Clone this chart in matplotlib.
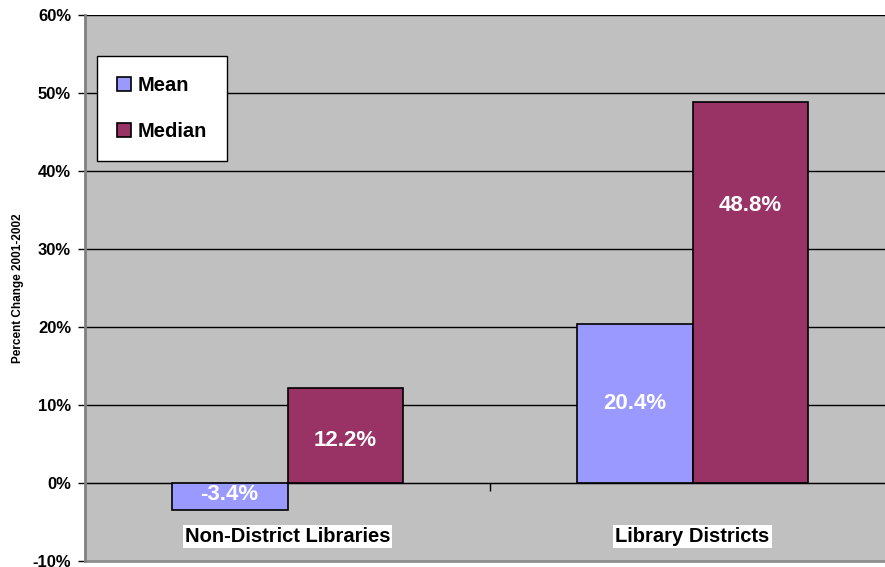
import matplotlib
matplotlib.use("Agg")
import matplotlib.pyplot as plt
import numpy as np

categories = ["Non-District Libraries", "Library Districts"]
series_names = ["Mean", "Median"]
mean_vals = [-3.4, 20.4]
median_vals = [12.2, 48.8]
yticks = [-10, 0, 10, 20, 30, 40, 50, 60]
ylabel = "Percent Change 2001-2002"

colors = ["#9999FF", "#993366"]
plt.rcParams['font.family'] = ['Liberation Sans', 'DejaVu Sans']

fig = plt.figure(figsize=(8.85, 5.67), dpi=100)
fig.patch.set_facecolor("white")
ax = fig.add_axes([85/885, 1-561/567, 810/885, (561-15)/567])
ax.set_facecolor("#C0C0C0")

x = np.arange(len(categories)) + 0.5
w = 1/3.5
b1 = ax.bar(x - w/2, mean_vals, w, color=colors[0], edgecolor="black", linewidth=1.2, label=series_names[0], zorder=3)
b2 = ax.bar(x + w/2, median_vals, w, color=colors[1], edgecolor="black", linewidth=1.2, label=series_names[1], zorder=3)

# data labels
label_offsets = {(0, 0): 0.5, (0, 1): 0.45, (1, 0): 0.5, (1, 1): 0.73}
for si, vals in enumerate([mean_vals, median_vals]):
    for ci, v in enumerate(vals):
        xc = x[ci] + (-w/2 if si == 0 else w/2)
        yc = v * label_offsets[(ci, si)] if v > 0 else v * 0.42
        ax.text(xc, yc, f"{v:.1f}%", color="white", fontsize=16, fontweight="bold",
                ha="center", va="center", zorder=4)

ax.set_xlim(0, 2)
ax.set_ylim(-10, 60)
ax.set_yticks(yticks)
ax.set_yticklabels([f"{t}%" for t in yticks], fontsize=12, fontweight="bold")
ax.yaxis.grid(True, color="black", linewidth=1.0, zorder=1)
ax.set_axisbelow(True)
ax.tick_params(axis="y", direction="out", length=5, width=1, color="black", pad=5)

ax.spines["bottom"].set_position(("data", 0))
ax.spines["bottom"].set_color("black")
ax.spines["bottom"].set_zorder(2)
ax.set_xticks([1])
ax.set_xticklabels([""])
ax.tick_params(axis="x", direction="out", length=6, width=1, color="black")
ax.spines["left"].set_color("#808080")
ax.spines["left"].set_linewidth(2)
ax.spines["top"].set_visible(False)
ax.spines["right"].set_color("#909090")
ax.axhline(-10, color="#909090", linewidth=2, zorder=2, clip_on=False)

for ci, c in enumerate(categories):
    ax.text(x[ci], -6.9, c, fontsize=14.5, fontweight="bold", ha="center", va="center",
            bbox=dict(facecolor="white", edgecolor="none", pad=1.5), zorder=5)

ax.set_ylabel(ylabel, fontsize=8.5, fontweight="bold", labelpad=6)

leg = ax.legend(loc="upper left", bbox_to_anchor=((97-85)/810, (561-56)/546),
                frameon=True, fancybox=False, edgecolor="black", framealpha=1,
                prop=dict(size=14.5, weight="bold"), handlelength=0.7, handleheight=0.7,
                handletextpad=0.3, labelspacing=1.35, borderpad=1.0, borderaxespad=0)
leg.get_frame().set_linewidth(1.0)

fig.savefig("out.png", dpi=100)
